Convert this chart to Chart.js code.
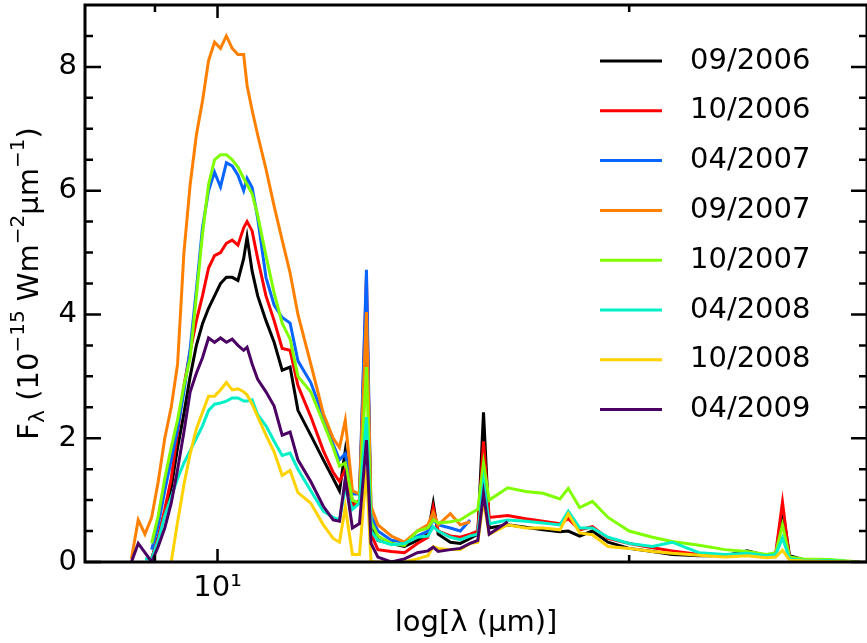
<!DOCTYPE html>
<html>
<head>
<meta charset="utf-8">
<script src="https://cdn.jsdelivr.net/npm/chart.js@4.4.1/dist/chart.umd.min.js"></script>
<style>
  html, body { margin: 0; padding: 0; background: #fff; overflow: hidden; }
  #caixa { width: 867px; height: 643px; }
</style>
</head>
<body>
<div id="caixa"><canvas id="espectro" width="867" height="643"></canvas></div>
<script>
// comprimentos de onda (micron)
const lambdas = [8.55, 8.65, 8.75, 8.85, 8.95, 9.05, 9.15, 9.25, 9.35, 9.45,
  9.55, 9.65, 9.75, 9.85, 9.95, 10.05, 10.15, 10.25, 10.35, 10.45,
  10.51, 10.6, 10.7, 10.85, 11.0, 11.15, 11.3, 11.45, 11.7, 11.95,
  12.15, 12.28, 12.4, 12.55, 12.7, 12.85, 12.95, 13.1, 13.4, 13.7,
  14.0, 14.25, 14.38, 14.5, 14.8, 15.05, 15.3, 15.5, 15.65, 15.8,
  16.3, 16.8, 17.3, 17.8, 18.05, 18.4, 18.8, 19.3, 20.0, 20.8,
  21.5, 22.5, 23.5, 24.4, 25.2, 25.6, 25.89, 26.2, 26.8, 28.0, 29.5]

const epocas = ["09/2006", "10/2006", "04/2007", "09/2007", "10/2007", "04/2008", "10/2008", "04/2009"]
const cores = ["#000000", "#ff0000", "#0a64ff", "#ff8000", "#7fff00", "#00f0c8", "#ffd200", "#4b0064"]

// fluxos (10^-15 W m^-2 um^-1)
const fluxo0906 = [null, null, null, null, 0.05, 0.4, 0.8, 1.2, 1.85, 2.4,
  3.0, 3.5, 3.85, 4.1, 4.3, 4.5, 4.6, 4.6, 4.55, 4.9,
  5.25, 4.7, 4.3, 3.9, 3.55, 3.1, 3.15, 2.45, 2.05, 1.65,
  1.35, 1.15, 1.8, 0.95, 0.95, 4.3, 0.6, 0.35, 0.3, 0.25,
  0.35, 0.45, 0.95, 0.45, 0.32, 0.3, 0.38, 0.45, 2.42, 0.55,
  0.6, 0.56, 0.52, 0.49, 0.5, 0.42, 0.5, 0.32, 0.22, 0.17,
  0.12, 0.1, 0.1, 0.18, 0.1, 0.12, 0.85, 0.1, 0.04, 0.02, 0.0]
const fluxo1006 = [null, null, null, null, 0.05, 0.4, 0.85, 1.35, 2.1, 2.85,
  3.4, 3.9, 4.3, 4.75, 4.95, 5.0, 5.15, 5.2, 5.12, 5.4,
  5.5, 5.35, 4.9, 4.3, 3.9, 3.45, 3.42, 2.85, 2.35, 1.8,
  1.45, 1.3, 1.5, 0.9, 1.0, 4.6, 0.45, 0.2, 0.17, 0.15,
  0.3, 0.4, 0.88, 0.5, 0.42, 0.4, 0.45, 0.5, 1.95, 0.72,
  0.75, 0.7, 0.66, 0.62, 0.7, 0.52, 0.57, 0.38, 0.3, 0.23,
  0.18, 0.12, 0.1, 0.15, 0.1, 0.15, 0.97, 0.05, 0.02, 0.02, 0.0]
const fluxo0407 = [null, null, null, null, 0.2, 0.6, 1.15, 1.65, 2.15, 2.75,
  3.45, 4.4, 5.4, 6.0, 6.3, 6.06, 6.45, 6.4, 6.25, 6.0,
  6.2, 6.05, 5.55, 4.6, 4.15, 3.95, 3.86, 3.25, 2.9, 2.35,
  1.9, 1.65, 1.75, 1.1, 1.1, 4.72, 0.75, 0.5, 0.35, 0.32,
  0.42, 0.5, 0.68, 0.6, 0.55, 0.5, 0.68, null, null, null,
  null, null, null, null, null, null, null, null, null, null,
  null, null, null, null, null, null, null, null, null, null, null]
const fluxo0907 = [null, 0.05, 0.68, 0.45, 0.72, 1.3, 2.0, 2.5, 3.2, 5.0,
  6.1, 6.9, 7.45, 8.1, 8.4, 8.3, 8.5, 8.3, 8.2, 8.2,
  7.7, 7.3, 6.9, 6.35, 5.75, 5.2, 4.67, 4.0, 3.2, 2.4,
  2.0, 1.85, 2.29, 1.15, 1.1, 4.04, 0.9, 0.6, 0.42, 0.32,
  0.5, 0.6, 0.8, 0.6, 0.78, 0.6, 0.65, null, null, null,
  null, null, null, null, null, null, null, null, null, null,
  null, null, null, null, null, null, null, null, null, null, null]
const fluxo1007 = [null, null, null, null, 0.3, 0.75, 1.35, 1.85, 2.3, 2.85,
  3.3, 4.3, 5.3, 6.1, 6.5, 6.58, 6.58, 6.5, 6.38, 6.2,
  6.1, 5.95, 5.6, 4.95, 4.35, 3.86, 3.6, 3.0, 2.75, 2.25,
  1.85, 1.55, 1.6, 1.0, 0.95, 3.15, 0.65, 0.42, 0.3, 0.27,
  0.5, 0.55, 0.68, 0.63, 0.65, 0.68, 0.78, 0.85, 1.6, 1.0,
  1.2, 1.14, 1.11, 1.02, 1.19, 0.88, 0.98, 0.72, 0.5, 0.4,
  0.33, 0.27, 0.2, 0.17, 0.12, 0.15, 0.6, 0.08, 0.05, 0.04, 0.0]
const fluxo0408 = [null, null, null, 0.05, 0.05, 0.35, 0.75, 1.05, 1.35, 1.6,
  1.8, 2.0, 2.2, 2.45, 2.55, 2.57, 2.6, 2.65, 2.65, 2.6,
  2.6, 2.62, 2.38, 2.2, 1.95, 1.72, 1.76, 1.5, 1.15, 0.82,
  0.72, 0.68, 1.2, 0.85, 0.95, 2.34, 0.5, 0.35, 0.28, 0.3,
  0.4, 0.42, 0.57, 0.5, 0.4, 0.36, 0.42, 0.45, 1.3, 0.62,
  0.68, 0.66, 0.63, 0.6, 0.82, 0.55, 0.55, 0.4, 0.3, 0.25,
  0.32, 0.15, 0.12, 0.14, 0.1, 0.12, 0.39, 0.05, 0.03, 0.02, 0.0]
const fluxo1008 = [null, null, null, null, null, null, null, 0.0, 0.65, 1.25,
  1.75, 2.15, 2.42, 2.68, 2.68, 2.78, 2.9, 2.78, 2.8, 2.75,
  2.7, 2.55, 2.35, 2.05, 1.78, 1.4, 1.48, 1.12, 0.95, 0.6,
  0.38, 0.32, 0.89, 0.12, 0.12, 1.5, 0.0, 0.0, 0.0, 0.0,
  0.05, 0.1, 0.25, 0.22, 0.2, 0.2, 0.3, 0.32, 1.0, 0.45,
  0.6, 0.55, 0.55, 0.52, 0.78, 0.47, 0.44, 0.25, 0.22, 0.17,
  0.14, 0.11, 0.08, 0.1, 0.07, 0.08, 0.19, 0.03, 0.02, 0.01, 0.0]
const fluxo0409 = [null, 0.0, 0.3, 0.15, 0.0, 0.25, 0.55, 0.95, 1.5, 2.1,
  2.75, 3.05, 3.3, 3.62, 3.55, 3.62, 3.55, 3.6, 3.5, 3.42,
  3.47, 3.2, 2.95, 2.75, 2.52, 2.05, 2.1, 1.65, 1.3, 0.9,
  0.68, 0.66, 1.35, 0.55, 0.62, 1.97, 0.3, 0.08, 0.0, 0.05,
  0.15, 0.18, 0.24, 0.17, 0.2, 0.22, 0.3, 0.35, 1.11, 0.45,
  0.65, null, null, null, null, null, null, null, null, null,
  null, null, null, null, null, null, null, null, null, null, null]

const fluxos = [fluxo0906, fluxo1006, fluxo0407, fluxo0907, fluxo1007, fluxo0408, fluxo1008, fluxo0409]

// marcas dos eixos
const xTicksMaiores = [10]
const xTicksMenores = [9, 20]
const yTicksMaiores = [0, 2, 4, 6, 8]
const yTicksMenores = [0.5, 1, 1.5, 2.5, 3, 3.5, 4.5, 5, 5.5, 6.5, 7, 7.5, 8.5]

const FONTE = "'DejaVu Sans', 'Liberation Sans', sans-serif"
const TAM = 29

const datasets = epocas.map((epoca, i) => {
  const pontos = []
  lambdas.forEach((l, j) => {
    if (fluxos[i][j] !== null) pontos.push({ x: l, y: fluxos[i][j] })
  })
  return {
    label: epoca,
    data: pontos,
    borderColor: cores[i],
    borderWidth: 3,
    pointRadius: 0,
    fill: false,
    tension: 0,
    order: -i
  }
})

// caixa, marcas internas, legenda e titulos dos eixos
const moldura = {
  id: 'moldura',
  afterDatasetsDraw(chart) {
    const { ctx, chartArea: a, scales: { x, y } } = chart
    ctx.save()
    ctx.strokeStyle = '#000'
    ctx.lineWidth = 2.5
    ctx.beginPath()
    const marcaX = (v, len) => {
      const px = x.getPixelForValue(v)
      ctx.moveTo(px, a.bottom); ctx.lineTo(px, a.bottom - len)
      ctx.moveTo(px, a.top); ctx.lineTo(px, a.top + len)
    }
    const marcaY = (v, len) => {
      const py = y.getPixelForValue(v)
      ctx.moveTo(a.left, py); ctx.lineTo(a.left + len, py)
      ctx.moveTo(a.right, py); ctx.lineTo(a.right - len, py)
    }
    xTicksMaiores.forEach(v => marcaX(v, 13))
    xTicksMenores.forEach(v => marcaX(v, 7))
    yTicksMaiores.forEach(v => marcaY(v, 16))
    yTicksMenores.forEach(v => marcaY(v, 8))
    ctx.stroke()
    ctx.lineWidth = 3
    ctx.strokeRect(a.left, a.top, a.right - a.left, a.bottom - a.top)
    ctx.restore()
  },
  afterDraw(chart) {
    const ctx = chart.ctx
    const a = chart.chartArea
    ctx.save()
    // legenda
    chart.data.datasets.forEach((ds, i) => {
      const yy = 61 + i * 49.8
      ctx.strokeStyle = ds.borderColor
      ctx.lineWidth = 3
      ctx.beginPath()
      ctx.moveTo(600, yy); ctx.lineTo(662, yy)
      ctx.stroke()
      ctx.fillStyle = '#000'
      ctx.font = TAM + 'px ' + FONTE
      ctx.textAlign = 'left'
      ctx.textBaseline = 'middle'
      ctx.fillText(ds.label, 690, yy)
    })
    // titulo x
    ctx.font = TAM + 'px ' + FONTE
    ctx.textAlign = 'center'
    ctx.textBaseline = 'middle'
    ctx.fillStyle = '#000'
    ctx.fillText('log[λ (μm)]', (a.left + a.right) / 2, 623)
    // titulo y com indices
    const partes = [
      { t: 'F', s: TAM, dy: 0 },
      { t: 'λ', s: 22, dy: 8 },
      { t: ' (10', s: TAM, dy: 0 },
      { t: '−15', s: 20, dy: -11 },
      { t: ' Wm', s: TAM, dy: 0 },
      { t: '−2', s: 20, dy: -11 },
      { t: 'μm', s: TAM, dy: 0 },
      { t: '−1', s: 20, dy: -11 },
      { t: ')', s: TAM, dy: 0 }
    ]
    let largura = 0
    partes.forEach(p => { ctx.font = p.s + 'px ' + FONTE; p.w = ctx.measureText(p.t).width; largura += p.w })
    ctx.translate(30, (a.top + a.bottom) / 2)
    ctx.rotate(-Math.PI / 2)
    ctx.textAlign = 'left'
    ctx.textBaseline = 'middle'
    let cx = -largura / 2
    partes.forEach(p => {
      ctx.font = p.s + 'px ' + FONTE
      ctx.fillText(p.t, cx, p.dy)
      cx += p.w
    })
    ctx.restore()
  }
}

new Chart(document.getElementById('espectro'), {
  type: 'line',
  data: { datasets: datasets },
  options: {
    responsive: false,
    animation: false,
    devicePixelRatio: 1,
    layout: { padding: { top: 5, right: -3, left: 0, bottom: 0 } },
    plugins: { legend: { display: false }, tooltip: { enabled: false } },
    scales: {
      x: {
        type: 'logarithmic',
        min: 8,
        max: 29.85,
        grid: { display: false, drawTicks: false },
        border: { display: false },
        afterBuildTicks: s => { s.ticks = xTicksMaiores.map(v => ({ value: v })) },
        afterFit: s => { s.height = 81; s.paddingLeft = 0; s.paddingRight = 0 },
        ticks: {
          autoSkip: false,
          maxRotation: 0,
          padding: 9,
          color: '#000',
          font: { family: FONTE, size: TAM },
          callback: v => (v === 10 ? '10¹' : '')
        }
      },
      y: {
        type: 'linear',
        min: 0,
        max: 9,
        grid: { display: false, drawTicks: false },
        border: { display: false },
        afterBuildTicks: s => { s.ticks = yTicksMaiores.map(v => ({ value: v })) },
        afterFit: s => { s.width = 85; s.paddingTop = 0; s.paddingBottom = 0 },
        ticks: {
          padding: 8,
          color: '#000',
          font: { family: FONTE, size: TAM }
        }
      }
    }
  },
  plugins: [moldura]
})
</script>
</body>
</html>
